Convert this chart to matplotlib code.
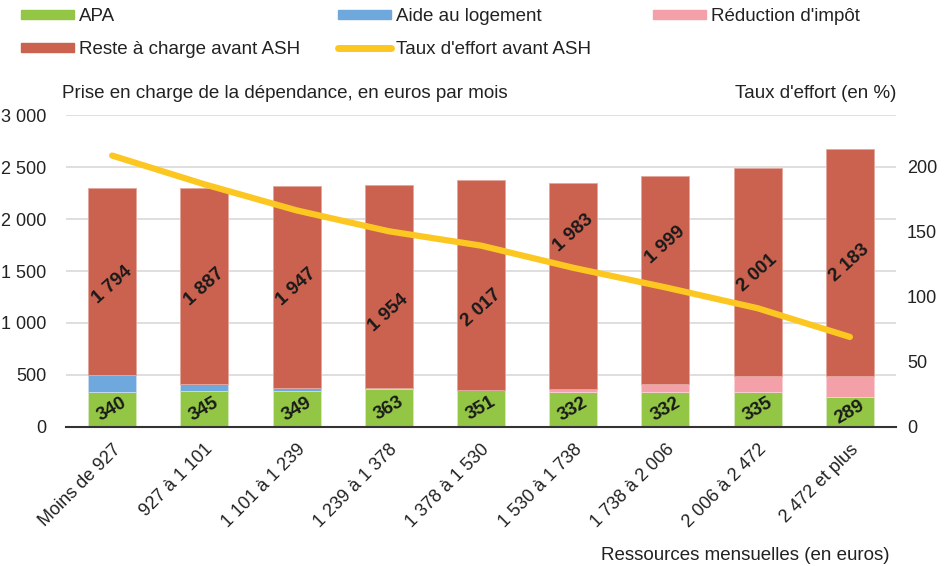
import numpy as np
import matplotlib
matplotlib.use("Agg")
import matplotlib.pyplot as plt
from matplotlib.lines import Line2D
from matplotlib.patches import Patch

plt.rcParams['font.family'] = ['Liberation Sans', 'DejaVu Sans']

categories = ["Moins de 927", "927 à 1 101", "1 101 à 1 239", "1 239 à 1 378",
              "1 378 à 1 530", "1 530 à 1 738", "1 738 à 2 006", "2 006 à 2 472",
              "2 472 et plus"]
apa = [340, 345, 349, 363, 351, 332, 332, 335, 289]
aide_logement = [160, 68, 26, 9, 5, 4, 0, 0, 0]
reduction_impot = [0, 0, 0, 0, 0, 32, 80, 155, 204]
reste_charge = [1794, 1887, 1947, 1954, 2017, 1983, 1999, 2001, 2183]
taux_effort = [208, 186, 166, 150, 139, 122, 107, 91, 69]
# height (in euros) where each "reste à charge" label sits
label_pos = [1365, 1350, 1346, 1096, 1144, 1865, 1750, 1481, 1577]

c_apa = '#92c644'
c_aide = '#6fa8dc'
c_red = '#f4a0a8'
c_reste = '#cb6250'
c_taux = '#fdc721'

def fmt(v):
    return f"{v:,}".replace(",", " ")

fig = plt.figure(figsize=(9.51, 5.66), dpi=100)
ax = fig.add_axes([66 / 951, 0.2456, 830 / 951, 0.5512])
ax2 = ax.twinx()

x = np.arange(len(categories))
w = 0.52
apa_a = np.array(apa)
aide_a = np.array(aide_logement)
red_a = np.array(reduction_impot)
reste_a = np.array(reste_charge)

ax.bar(x, apa_a, w, color=c_apa, edgecolor='#d7e9bd', linewidth=0.6, zorder=2)
ax.bar(x, aide_a, w, bottom=apa_a, color=c_aide, edgecolor='#c9dcf0', linewidth=0.6, zorder=2)
ax.bar(x, red_a, w, bottom=apa_a + aide_a, color=c_red, edgecolor='#f9d0d4', linewidth=0.6, zorder=2)
ax.bar(x, reste_a, w, bottom=apa_a + aide_a + red_a, color=c_reste,
       edgecolor='#e3a79c', linewidth=0.6, zorder=2)

for i in range(len(x)):
    ax.text(x[i], apa[i] / 2, fmt(apa[i]), ha='center', va='center', rotation=30,
            fontsize=13.5, fontweight='bold', color='#1a1a1a', zorder=5)
    ax.text(x[i], label_pos[i], fmt(reste_charge[i]), ha='center', va='center',
            rotation=42, fontsize=13.5, fontweight='bold', color='#1a1a1a', zorder=5)

ax.set_xlim(-0.5, len(x) - 0.5)
ax.set_ylim(0, 3000)
ax.set_yticks(np.arange(0, 3001, 500))
ax.set_yticklabels([fmt(v) for v in range(0, 3001, 500)], fontsize=13)
ax.yaxis.grid(True, color='#d9d9d9', linewidth=1.2, zorder=0)
ax.set_axisbelow(True)
ax.set_xticks(x)
ax.set_xticklabels(categories, rotation=45, ha='right', rotation_mode='anchor', fontsize=13)
ax.tick_params(axis='y', length=0, pad=14, colors='#222222')
ax.tick_params(axis='x', length=0, pad=10, colors='#222222')
for s in ['top', 'right', 'left']:
    ax.spines[s].set_visible(False)
ax.spines['bottom'].set_color('#333333')
ax.spines['bottom'].set_linewidth(1.5)

ax2.plot(x, taux_effort, color=c_taux, linewidth=4.5, solid_capstyle='round', zorder=4)
ax2.set_ylim(0, 200 * 312 / 261)
ax2.set_yticks([0, 50, 100, 150, 200])
ax2.set_yticklabels(['0', '50', '100', '150', '200'], fontsize=13)
ax2.tick_params(axis='y', length=0, pad=8, colors='#222222')
for s in ax2.spines.values():
    s.set_visible(False)

fig.text(0.065, 0.835, "Prise en charge de la dépendance, en euros par mois", fontsize=13.5,
         va='center', color='#222222')
fig.text(0.943, 0.835, "Taux d'effort (en %)", fontsize=13.5, ha='right', va='center',
         color='#222222')
fig.text(0.935, 1 - 555 / 566, "Ressources mensuelles (en euros)", fontsize=13.5, ha='right',
         va='center', color='#222222')

# legend, laid out by rows as in the original (one legend per column)
columns = [
    ([Patch(color=c_apa), Patch(color=c_reste)], ["APA", "Reste à charge avant ASH"], 21),
    ([Patch(color=c_aide), Line2D([0], [0], color=c_taux, linewidth=5, solid_capstyle='round')],
     ["Aide au logement", "Taux d'effort avant ASH"], 338),
    ([Patch(color=c_red)], ["Réduction d'impôt"], 653),
]
for handles, labels, xpix in columns:
    fig.legend(handles, labels, loc='upper left', bbox_to_anchor=(xpix / 951, 1 - 8 / 566),
               frameon=False, fontsize=13.5, handlelength=2.8, handleheight=0.35,
               handletextpad=0.3, labelspacing=0.85, borderpad=0, borderaxespad=0,
               labelcolor='#222222')

fig.savefig("out.png", dpi=100)
